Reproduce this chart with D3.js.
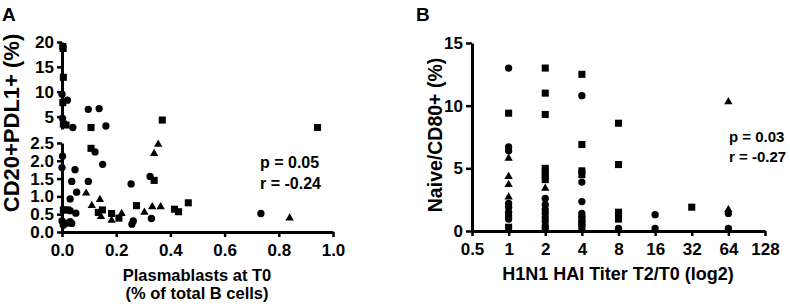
<!DOCTYPE html>
<html>
<head>
<meta charset="utf-8">
<script src="https://cdn.jsdelivr.net/npm/d3@7"></script>
<style>
    body { margin: 0; background: #fff; }
    text { font-family: "Liberation Sans", Arial, sans-serif; font-weight: bold; }
</style>
</head>
<body>
<div id="chart"></div>
<script>
// panel A: plasmablasts (% B cells) vs CD20+PDL1+ (%)
var aCircles = [
    [0.0, 9.5], [0.02, 8.3], [0.002, 4.65], [0.04, 2.8], [0.097, 6.45], [0.137, 6.6], [0.162, 3.1],
    [0.002, 2.13], [0.0, 1.81], [0.048, 1.75], [0.122, 2.25], [0.15, 1.9], [0.036, 1.42],
    [0.097, 1.42], [0.054, 1.12], [0.255, 1.35], [0.03, 0.93], [0.03, 0.6], [0.051, 0.53],
    [0.0, 0.31], [0.03, 0.29], [0.02, 0.25], [0.005, 0.19], [0.036, 0.24], [0.325, 1.56],
    [0.33, 0.38], [0.263, 0.31], [0.258, 0.22], [0.734, 0.52]
];
var aSquares = [
    [0.003, 19.1], [0.004, 18.7], [0.005, 12.9], [0.003, 7.8], [0.015, 3.3], [0.005, 3.5],
    [0.107, 2.8], [0.37, 4.3], [0.943, 2.8],
    [0.107, 2.35], [0.134, 0.55], [0.149, 0.62], [0.183, 0.52], [0.21, 0.39], [0.275, 0.74],
    [0.34, 1.45], [0.415, 0.64], [0.43, 0.57], [0.466, 0.82], [0.005, 0.62], [0.02, 0.62]
];
var aTriangles = [
    [0.089, 1.09], [0.14, 0.91], [0.11, 0.74], [0.144, 0.43], [0.22, 0.52], [0.183, 0.33],
    [0.355, 2.46], [0.34, 2.2], [0.304, 0.55], [0.333, 0.71], [0.364, 0.71], [0.84, 0.39]
];
var aXTicks = [0, 0.2, 0.4, 0.6, 0.8, 1.0];
var aYUpperTicks = [5, 10, 15, 20];
var aYLowerTicks = [0, 0.5, 1.0, 1.5, 2.0, 2.5];

// panel B: HAI titer fold change vs Naive/CD80+ (%)
var bCircles = [
    [1, 13], [1, 6.7], [1, 6.4], [1, 2.2], [1, 1.9], [1, 1.5], [1, 1.2], [1, 0.95],
    [2, 2.6], [2, 2.1], [2, 1.7], [2, 1.4], [2, 1.05], [2, 0.75], [2, 0.4], [2, 0.2],
    [4, 10.8], [4, 3.9], [4, 2.35], [4, 1.4], [4, 1.15],
    [8, 0.2], [16, 1.3], [16, 0.2], [64, 1.4], [64, 0.2]
];
var bSquares = [
    [1, 9.4], [1, 0.3],
    [2, 13], [2, 11], [2, 9.3], [2, 5.0], [2, 4.7], [2, 4.4], [2, 4.1],
    [4, 12.5], [4, 6.9], [4, 4.8], [4, 4.5], [4, 0.9], [4, 0.6], [4, 0.3],
    [8, 8.6], [8, 5.3], [8, 1.5], [8, 1.2], [8, 0.95],
    [32, 1.9]
];
var bTriangles = [
    [1, 5.8], [1, 4.35], [1, 3.7], [1, 2.7], [2, 3.4], [64, 10.3], [64, 1.7]
];
var bXTicks = [0.5, 1, 2, 4, 8, 16, 32, 64, 128];
var bYTicks = [0, 5, 10, 15];

var svg = d3.select('#chart')
    .append('svg')
    .attr('width', 790)
    .attr('height', 307);

var shapes = [
    { type: d3.symbolCircle, size: 42 },
    { type: d3.symbolSquare, size: 50 },
    { type: d3.symbolTriangle, size: 30 }
];

function styleAxis(g, size) {
    g.select('.domain').attr('stroke', '#000').attr('stroke-width', 3);
    g.selectAll('.tick line').attr('stroke', '#000').attr('stroke-width', 2.5);
    g.selectAll('.tick text')
        .attr('fill', '#000')
        .attr('font-size', size)
        .attr('font-family', '"Liberation Sans", Arial, sans-serif')
        .attr('font-weight', 'bold');
}

function drawPoints(g, sets, px, py) {
    sets.forEach(function (set, i) {
        g.append('g')
            .selectAll('path')
            .data(set)
            .enter()
            .append('path')
            .attr('d', d3.symbol().type(shapes[i].type).size(shapes[i].size))
            .attr('transform', function (d) {
                return 'translate(' + px(d) + ',' + py(d) + ')';
            })
            .attr('fill', '#000');
    });
}

// ---------- panel A ----------
var ax = d3.scaleLinear().domain([0, 1]).range([62, 333]);
var ayUp = d3.scaleLinear().domain([2.5, 20]).range([129, 42]);
var ayLow = d3.scaleLinear().domain([0, 2.5]).range([232, 143]);

var gA = svg.append('g');

gA.append('g')
    .attr('transform', 'translate(0,232)')
    .call(d3.axisBottom(ax).tickValues(aXTicks).tickFormat(d3.format('.1f'))
        .tickSize(5).tickSizeOuter(0).tickPadding(7))
    .call(styleAxis, 17);

gA.append('g')
    .attr('transform', 'translate(62,0)')
    .call(d3.axisLeft(ayUp).tickValues(aYUpperTicks).tickFormat(d3.format('d'))
        .tickSize(5).tickSizeOuter(0).tickPadding(3))
    .call(styleAxis, 17);

gA.append('g')
    .attr('transform', 'translate(62,0)')
    .call(d3.axisLeft(ayLow).tickValues(aYLowerTicks).tickFormat(d3.format('.1f'))
        .tickSize(5).tickSizeOuter(0).tickPadding(3))
    .call(styleAxis, 17);

drawPoints(gA, [aCircles, aSquares, aTriangles],
    function (d) { return ax(d[0]); },
    function (d) { return d[1] > 2.5 ? ayUp(d[1]) : ayLow(d[1]); });

gA.append('text')
    .attr('x', 2).attr('y', 21)
    .attr('font-size', 19)
    .text('A');

gA.append('text')
    .attr('transform', 'translate(19,123) rotate(-90)')
    .attr('text-anchor', 'middle')
    .attr('font-size', 22)
    .text('CD20+PDL1+ (%)');

gA.append('text')
    .attr('x', 197).attr('y', 281)
    .attr('text-anchor', 'middle')
    .attr('font-size', 16.5)
    .text('Plasmablasts at T0');

gA.append('text')
    .attr('x', 197).attr('y', 299)
    .attr('text-anchor', 'middle')
    .attr('font-size', 16.5)
    .text('(% of total B cells)');

gA.append('text')
    .attr('x', 260).attr('y', 168)
    .attr('font-family', 'Lato, sans-serif')
    .attr('font-size', 16)
    .text('p = 0.05');

gA.append('text')
    .attr('x', 260).attr('y', 189)
    .attr('font-family', 'Lato, sans-serif')
    .attr('font-size', 16)
    .text('r = -0.24');

// ---------- panel B ----------
var bx = d3.scaleLog().base(2).domain([0.5, 128]).range([472, 765]);
var by = d3.scaleLinear().domain([0, 15]).range([231, 43]);

var gB = svg.append('g');

gB.append('g')
    .attr('transform', 'translate(0,231)')
    .call(d3.axisBottom(bx).tickValues(bXTicks).tickFormat(function (d) { return String(d); })
        .tickSize(5).tickSizeOuter(0).tickPadding(7))
    .call(styleAxis, 17);

gB.append('g')
    .attr('transform', 'translate(472,0)')
    .call(d3.axisLeft(by).tickValues(bYTicks).tickFormat(d3.format('d'))
        .tickSize(6).tickSizeOuter(0).tickPadding(3))
    .call(styleAxis, 17);

drawPoints(gB, [bCircles, bSquares, bTriangles],
    function (d) { return bx(d[0]); },
    function (d) { return by(d[1]); });

gB.append('text')
    .attr('x', 416).attr('y', 21)
    .attr('font-size', 19)
    .text('B');

gB.append('text')
    .attr('transform', 'translate(442,135) rotate(-90)')
    .attr('text-anchor', 'middle')
    .attr('font-size', 19.5)
    .text('Naive/CD80+ (%)');

gB.append('text')
    .attr('x', 618).attr('y', 280)
    .attr('text-anchor', 'middle')
    .attr('font-size', 18)
    .text('H1N1 HAI Titer T2/T0 (log2)');

gB.append('text')
    .attr('x', 729).attr('y', 142)
    .attr('font-family', 'Lato, sans-serif')
    .attr('font-size', 15)
    .text('p = 0.03');

gB.append('text')
    .attr('x', 729).attr('y', 162)
    .attr('font-family', 'Lato, sans-serif')
    .attr('font-size', 15)
    .text('r = -0.27');
</script>
</body>
</html>
